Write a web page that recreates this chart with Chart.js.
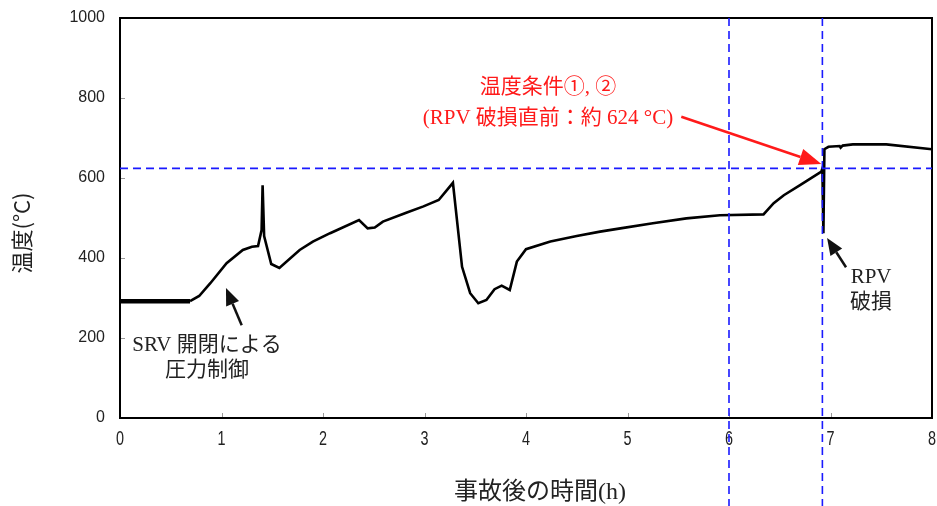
<!DOCTYPE html>
<html lang="ja">
<head>
<meta charset="utf-8">
<title>温度の推移</title>
<script src="https://cdn.jsdelivr.net/npm/chart.js@4.4.1/dist/chart.umd.min.js"></script>
<style>
  html, body { margin: 0; padding: 0; background: #fff; }
  #wrap { width: 937px; height: 506px; }
</style>
</head>
<body>
<div id="wrap"><canvas id="c" width="937" height="506"></canvas></div>
<script>
// Time after the accident (h) and temperature (°C)
const hours = [0, 0.69, 0.78, 0.89, 1.05, 1.21, 1.30, 1.36, 1.395, 1.405, 1.42, 1.49, 1.57, 1.77, 1.90, 2.07,
  2.355, 2.44, 2.51, 2.59, 2.82, 2.99, 3.14, 3.28, 3.37, 3.45, 3.53, 3.61, 3.69, 3.76, 3.84, 3.91,
  4.00, 4.24, 4.50, 4.73, 4.93, 5.25, 5.58, 5.91, 6.34, 6.44, 6.54, 6.70, 6.91, 6.92, 6.93, 6.94,
  6.98, 7.09, 7.10, 7.12, 7.22, 7.55, 8.0];
const tempC = [292, 292, 305, 337, 387, 420, 428, 430, 470, 582, 455, 385, 375, 420, 441, 462,
  495, 474, 476, 491, 513, 529, 545, 588, 378, 312, 287, 295, 322, 331, 320, 391,
  422, 441, 455, 466, 474, 487, 499, 507, 509, 537, 557, 582, 616, 624, 462, 672,
  678, 680, 676, 681, 684, 684, 672];

// Axis ticks
const xTickValues = [0, 1, 2, 3, 4, 5, 6, 7, 8];
const yTickValues = [0, 200, 400, 600, 800, 1000];

// Reference lines
const refTemp = 624;
const refHours = [6, 6.92];

// Labels
const xTitle = '事故後の時間(h)';
const yTitle = '温度(°C)';
const noteRed = ['温度条件①, ②', '(RPV 破損直前：約 624 °C)'];
const noteSrv = ['SRV 開閉による', '圧力制御'];
const noteRpv = ['RPV', '破損'];

const SERIF = '"Liberation Serif", "DejaVu Serif", "Noto Sans CJK JP", serif';
const SANS = '"Liberation Sans", "Noto Sans CJK JP", sans-serif';

function arrow(ctx, x1, y1, x2, y2, color, lw, headLen, headW) {
  const a = Math.atan2(y2 - y1, x2 - x1);
  const bx = x2 - headLen * Math.cos(a), by = y2 - headLen * Math.sin(a);
  ctx.save();
  ctx.strokeStyle = color; ctx.fillStyle = color; ctx.lineWidth = lw; ctx.setLineDash([]);
  ctx.beginPath(); ctx.moveTo(x1, y1); ctx.lineTo(bx, by); ctx.stroke();
  ctx.beginPath();
  ctx.moveTo(x2, y2);
  ctx.lineTo(bx + headW / 2 * Math.sin(a), by - headW / 2 * Math.cos(a));
  ctx.lineTo(bx - headW / 2 * Math.sin(a), by + headW / 2 * Math.cos(a));
  ctx.closePath(); ctx.fill();
  ctx.restore();
}

const decorations = {
  id: 'decorations',
  afterDatasetsDraw(chart) {
    const { ctx, chartArea: ca, scales: { x, y } } = chart;
    const px = v => x.getPixelForValue(v), py = v => y.getPixelForValue(v);

    // tick labels
    ctx.save();
    ctx.fillStyle = '#222'; ctx.textBaseline = 'middle';
    ctx.font = '16px ' + SANS;
    ctx.textAlign = 'right';
    yTickValues.forEach(v => ctx.fillText(String(v), ca.left - 15, py(v)));
    ctx.textAlign = 'center';
    ctx.font = '18px ' + SANS;
    xTickValues.forEach(v => {
      ctx.save();
      ctx.translate(px(v), ca.bottom + 21);
      ctx.scale(0.8, 1.15);
      ctx.fillText(String(v), 0, 0);
      ctx.restore();
    });
    ctx.restore();

    // inward tick marks
    ctx.save();
    ctx.strokeStyle = '#999'; ctx.lineWidth = 1;
    yTickValues.slice(1, -1).forEach(v => {
      ctx.beginPath(); ctx.moveTo(ca.left, Math.round(py(v)) + 0.5); ctx.lineTo(ca.left + 5, Math.round(py(v)) + 0.5); ctx.stroke();
    });
    xTickValues.slice(1, -1).forEach(v => {
      ctx.beginPath(); ctx.moveTo(Math.round(px(v)) + 0.5, ca.bottom); ctx.lineTo(Math.round(px(v)) + 0.5, ca.bottom - 5); ctx.stroke();
    });
    ctx.restore();

    // frame
    ctx.save();
    ctx.strokeStyle = '#000'; ctx.lineWidth = 2;
    ctx.strokeRect(ca.left, ca.top, ca.right - ca.left, ca.bottom - ca.top);
    ctx.restore();

    // dashed reference lines
    ctx.save();
    ctx.strokeStyle = '#1a1aff'; ctx.lineWidth = 1.6; ctx.setLineDash([8, 5]);
    ctx.beginPath(); ctx.moveTo(ca.left, py(refTemp)); ctx.lineTo(ca.right, py(refTemp)); ctx.stroke();
    refHours.forEach(h => {
      ctx.beginPath(); ctx.moveTo(px(h), ca.top); ctx.lineTo(px(h), chart.height); ctx.stroke();
    });
    ctx.restore();

    // annotations
    ctx.save();
    ctx.textAlign = 'center'; ctx.textBaseline = 'middle';
    ctx.font = '21px ' + SERIF;
    ctx.fillStyle = '#ff1a1a';
    ctx.fillText(noteRed[0], px(4.217), py(827));
    ctx.fillText(noteRed[1], px(4.217), py(750));
    ctx.fillStyle = '#222';
    ctx.fillText(noteSrv[0], px(0.857), py(182));
    ctx.fillText(noteSrv[1], px(0.857), py(118));
    ctx.fillText(noteRpv[0], px(7.40), py(352));
    ctx.fillText(noteRpv[1], px(7.40), py(290));
    ctx.restore();

    arrow(ctx, px(5.53), py(753), px(6.91), py(635), '#ff1a1a', 2.5, 22, 17);
    arrow(ctx, px(1.199), py(232), px(1.044), py(325), '#111', 2.5, 17, 14);
    arrow(ctx, px(7.153), py(377), px(6.966), py(450), '#111', 2.5, 17, 14);

    // axis titles
    ctx.save();
    ctx.fillStyle = '#222'; ctx.textAlign = 'center'; ctx.textBaseline = 'middle';
    ctx.font = '24px ' + SERIF;
    ctx.fillText(xTitle, 540, 493);
    ctx.translate(22, 233);
    ctx.rotate(-Math.PI / 2);
    ctx.font = '22px "Noto Sans CJK JP", sans-serif';
    ctx.fillText(yTitle, 0, 0);
    ctx.restore();
  }
};

new Chart(document.getElementById('c'), {
  type: 'line',
  data: {
    datasets: [{
      data: hours.map((h, i) => ({ x: h, y: tempC[i] })),
      borderColor: '#000',
      borderWidth: 2.6,
      pointRadius: 0,
      tension: 0,
      fill: false,
      segment: { borderWidth: c => (c.p1.parsed.x <= 0.7 ? 4.5 : 2.6) }
    }]
  },
  options: {
    responsive: false,
    animation: false,
    devicePixelRatio: 1,
    layout: { padding: { top: 18, right: 5, left: 0, bottom: 0 } },
    plugins: { legend: { display: false }, tooltip: { enabled: false } },
    scales: {
      x: {
        type: 'linear', min: 0, max: 8,
        afterBuildTicks: s => { s.ticks = xTickValues.map(v => ({ value: v })); },
        afterFit: s => { s.height = 88; },
        grid: { display: false, drawTicks: false },
        border: { display: false },
        ticks: { display: false }
      },
      y: {
        min: 0, max: 1000,
        afterBuildTicks: s => { s.ticks = yTickValues.map(v => ({ value: v })); },
        afterFit: s => { s.width = 120; },
        grid: { display: false, drawTicks: false },
        border: { display: false },
        ticks: { display: false }
      }
    }
  },
  plugins: [decorations]
});
</script>
</body>
</html>
